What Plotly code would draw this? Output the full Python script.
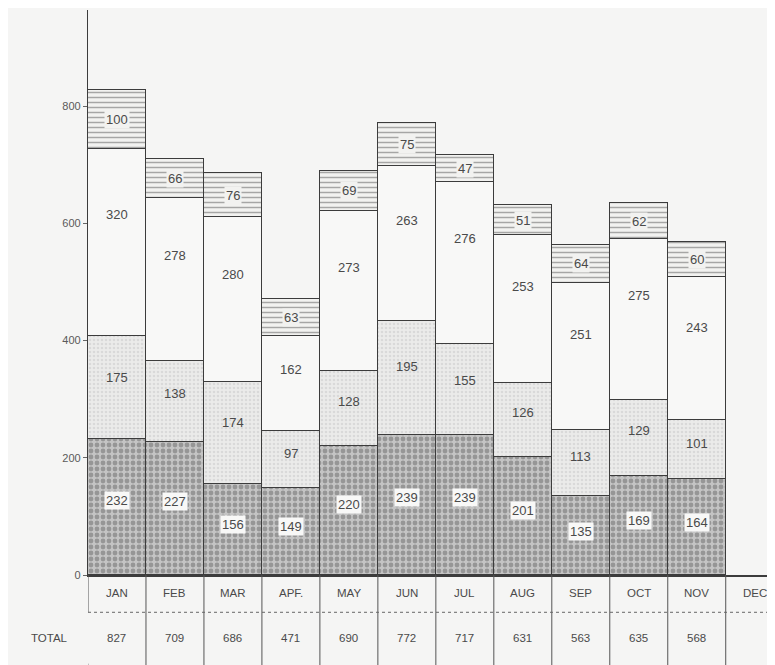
import plotly.graph_objects as go

months = ["JAN", "FEB", "MAR", "APR", "MAY", "JUN", "JUL", "AUG", "SEP", "OCT", "NOV", "DEC"]
month_labels = ["JAN", "FEB", "MAR", "APF.", "MAY", "JUN", "JUL", "AUG", "SEP", "OCT", "NOV", "DEC"]
seg_dark = [232, 227, 156, 149, 220, 239, 239, 201, 135, 169, 164, None]
seg_light = [175, 138, 174, 97, 128, 195, 155, 126, 113, 129, 101, None]
seg_white = [320, 278, 280, 162, 273, 263, 276, 253, 251, 275, 243, None]
seg_hatch = [100, 66, 76, 63, 69, 75, 47, 51, 64, 62, 60, None]
totals = ["827", "709", "686", "471", "690", "772", "717", "631", "563", "635", "568", ""]
y_ticks = [0, 200, 400, 600, 800]

TXT = "#4a4a4a"
LINE = "#3c3c3c"
BG = "#f5f5f4"
FONT = "Liberation Sans"

fig = go.Figure()
styles = [
    (seg_dark, dict(shape=".", fgcolor="#686868", bgcolor="#c4c4c4", size=6, solidity=0.5)),
    (seg_light, dict(shape=".", fgcolor="#c8c8c8", bgcolor="#ebebea", size=4, solidity=0.35)),
    (seg_white, None),
    (seg_hatch, dict(shape="-", fgcolor="#5a5a5a", bgcolor="#f2f2f0", size=5, solidity=0.3)),
]
for vals, pat in styles:
    marker = dict(color="#f8f8f7", line=dict(color=LINE, width=1.2))
    if pat:
        marker["pattern"] = pat
    fig.add_trace(go.Bar(x=months, y=vals, marker=marker, showlegend=False, hoverinfo="skip"))

# segment labels
for i, m in enumerate(months):
    if seg_dark[i] is None:
        continue
    base = 0
    for vals, frac, bg in [(seg_dark, 0.55, "#f8f8f7"), (seg_light, 0.6, None),
                           (seg_white, 0.65, None), (seg_hatch, 0.5, "#f2f2f0")]:
        v = vals[i]
        kw = dict(bgcolor=bg, borderpad=1) if bg else {}
        fig.add_annotation(x=m, y=base + v * frac, text=str(v), showarrow=False,
                           font=dict(family=FONT, size=13, color=TXT), **kw)
        base += v

# month row and total row
for i, lab in enumerate(month_labels):
    fig.add_annotation(x=months[i], y=-0.031, yref="paper", yanchor="middle", text=lab,
                       showarrow=False, font=dict(family=FONT, size=11.5, color=TXT))
    fig.add_annotation(x=months[i], y=-0.111, yref="paper", yanchor="middle", text=totals[i],
                       showarrow=False, font=dict(family=FONT, size=11.5, color=TXT))
fig.add_annotation(x=-0.02, xref="paper", xanchor="right", xshift=-4, y=-0.111, yref="paper",
                   yanchor="middle", text="TOTAL", showarrow=False,
                   font=dict(family=FONT, size=11.5, color=TXT))

for i in range(len(months)):
    fig.add_shape(type="line", x0=i + 0.5, x1=i + 0.5, y0=0, y1=-0.16, yref="paper",
                  line=dict(color="#555", width=1))
fig.add_shape(type="line", x0=-0.5, x1=-0.5, y0=0, y1=-0.066, yref="paper",
              line=dict(color="#555", width=1))
fig.add_shape(type="line", x0=-0.68, x1=-0.5, y0=-0.066, y1=-0.16, yref="paper",
              line=dict(color="#555", width=1))
fig.add_shape(type="line", x0=-0.5, x1=11.5, y0=-0.066, y1=-0.066, yref="paper",
              line=dict(color="#666", width=1, dash="dot"))

fig.update_layout(
    width=767, height=657,
    margin=dict(l=80, r=0, t=2, b=90),
    barmode="stack", bargap=0,
    paper_bgcolor=BG, plot_bgcolor=BG,
    font=dict(family=FONT, color=TXT),
    xaxis=dict(range=[-0.5, 11.35], showticklabels=False, ticks="", showgrid=False,
               showline=True, linecolor=LINE, linewidth=1.5, zeroline=False),
    yaxis=dict(range=[0, 964], tickvals=y_ticks, ticks="outside", ticklen=4, tickcolor="#666",
               showgrid=False, showline=True, linecolor=LINE, linewidth=1.2, zeroline=False,
               tickfont=dict(family=FONT, size=11, color="#5a5a5a")),
)
fig.write_html("out.html")
